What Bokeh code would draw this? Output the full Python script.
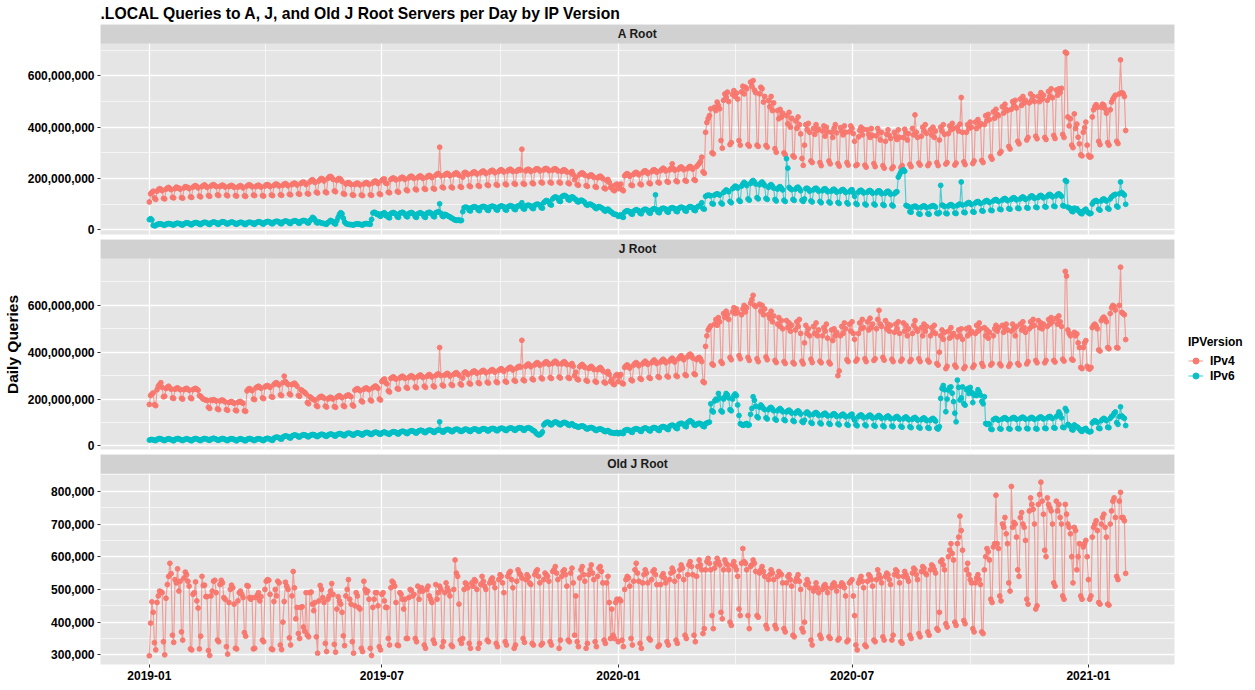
import numpy as np
import pandas as pd
from bokeh.plotting import figure
from bokeh.layouts import column
from bokeh.models import (Range1d, FixedTicker, NumeralTickFormatter, DatetimeTickFormatter,
                          Legend, LegendItem, Grid, ColumnDataSource)
from bokeh.core.properties import value
from bokeh.embed import file_html
from bokeh.resources import INLINE

TITLE = ".LOCAL Queries to A, J, and Old J Root Servers per Day by IP Version"
START = "2019-01-01"  # first day of the daily series
PANELS = ["A Root", "J Root", "Old J Root"]
VERSIONS = ["IPv4", "IPv6"]
X_TICKS = ["2019-01-01", "2019-07-01", "2020-01-01", "2020-07-01", "2021-01-01"]
Y_TICKS_AJ = [0, 200e6, 400e6, 600e6]
Y_MINOR_AJ = [100e6, 300e6, 500e6, 700e6]
Y_TICKS_OLDJ = [300e3, 400e3, 500e3, 600e3, 700e3, 800e3]
Y_MINOR_OLDJ = [350e3, 450e3, 550e3, 650e3, 750e3, 850e3]

# daily queries, A root, millions (one row per week, Mon..Sun)
A_IPV4_M = [
108,140,146,150,124,118,
150,156,160,158,152,122,120, 158,162,165,160,156,126,124, 160,166,164,162,158,125,123,
163,168,166,165,160,128,126, 166,170,172,168,163,131,128, 168,172,175,170,165,133,130,
170,174,176,172,168,136,133, 168,172,174,171,166,135,132, 168,171,173,170,165,133,131,
166,170,172,168,163,132,130, 170,174,175,172,167,135,133, 168,172,174,170,166,133,131,
170,175,176,173,168,135,133, 172,177,178,175,170,136,134, 173,178,180,176,171,138,136,
176,180,182,179,174,140,138, 180,184,186,183,176,141,139, 186,192,195,190,184,146,143,
190,196,200,197,190,147,144, 200,206,208,204,196,151,148, 192,198,200,196,188,141,138,
178,182,184,181,176,136,134, 176,180,182,179,174,135,133, 178,182,184,181,176,136,134,
182,188,190,186,180,140,137, 192,197,198,182,180,146,144, 196,200,202,199,194,149,146,
198,203,205,201,196,155,152, 202,207,209,205,200,158,155, 203,208,210,206,200,160,157,
205,210,212,208,203,161,158, 212,217,219,322,210,166,163, 213,218,220,216,210,166,163,
215,220,222,218,212,168,165, 205,222,224,220,215,171,168, 219,224,226,222,217,172,169,
222,227,229,225,219,175,172, 225,230,232,228,222,176,173, 227,232,234,230,225,178,175,
229,234,236,232,227,180,177, 228,233,235,232,314,180,177, 229,234,236,233,227,182,179,
232,237,238,235,229,185,182, 233,238,239,236,230,185,182, 232,237,238,234,229,185,182,
227,232,234,230,225,182,179, 222,227,215,195,205,176,173, 215,220,222,218,212,172,169,
207,212,214,210,204,168,165, 202,207,209,205,199,162,159, 192,196,185,165,170,155,152,
175,178,160,172,178,156,152, 210,216,219,215,208,174,172, 216,222,224,220,214,178,175,
222,228,230,226,219,182,179, 226,232,234,230,224,185,182, 230,236,240,236,229,188,185,
233,239,257,238,232,190,187, 236,242,245,240,234,192,189, 238,244,247,243,236,195,192,
246,252,258,266,283,226,220, 380,418,433,445,472,300,296, 478,465,498,485,472,348,318,
505,530,517,537,500,332,340, 528,543,520,533,510,348,330, 538,560,530,556,550,332,326,
576,560,582,545,535,330,325, 530,556,550,498,520,329,322, 504,480,520,465,495,316,302,
465,433,470,439,455,300,292, 445,413,458,400,435,288,283, 425,395,440,410,374,278,251,
330,410,390,415,380,268,262, 395,372,410,388,392,262,250, 385,405,365,400,382,268,257,
380,360,396,410,378,258,248, 398,385,370,405,380,262,252, 382,405,396,375,345,250,254,
362,388,400,370,392,252,244, 390,372,360,395,368,258,246, 366,395,382,350,380,250,240,
345,372,390,368,356,238,245, 380,364,352,390,360,242,250, 360,392,378,350,375,255,246,
395,370,448,380,360,260,252, 365,400,385,410,376,250,258, 390,370,400,360,385,262,250,
350,400,385,410,372,256,262, 375,405,390,415,395,252,260, 400,385,412,516,380,265,254,
380,410,395,420,400,258,268, 420,395,430,405,415,270,262, 410,445,425,450,430,285,275,
460,435,470,450,445,298,305, 480,455,490,470,465,325,315, 470,500,485,505,475,345,335,
510,485,520,495,505,350,360, 495,530,505,520,500,365,355, 520,500,535,510,525,360,352,
505,540,520,550,515,368,356, 545,525,550,535,552,372,360, 693,689,440,405,433,330,320,
452,395,412,361,335,292,288, 380,398,420,330,290,283,285, 440,468,480,488,478,345,332,
478,490,486,472,455,340,330, 468,498,510,518,525,345,336,
530,663,535,532,520,387,
]

A_IPV6_M = [
39,43,38,17,15,16,
20,22,23,22,21,18,17, 21,23,24,23,22,19,18, 22,24,25,24,23,19,18,
23,25,27,26,24,20,19, 24,26,28,27,25,21,20, 25,27,29,28,26,22,20,
26,28,30,29,27,22,21, 27,29,31,30,28,23,22, 26,28,30,29,27,22,21,
25,27,29,28,26,21,20, 26,28,29,28,27,22,21, 27,29,31,30,28,23,22,
28,30,32,31,29,24,23, 29,31,33,32,30,24,23, 30,32,34,33,31,25,24,
31,33,35,34,32,26,25, 32,34,36,35,33,27,26, 35,40,48,45,38,28,26,
30,28,26,25,24,22,21, 28,30,36,34,30,24,22, 35,48,60,66,62,45,30,
24,22,21,20,20,19,18, 21,22,23,22,21,19,18, 22,23,24,23,22,21,40,
65,68,66,60,62,55,52, 62,64,66,55,58,48,46, 63,65,67,64,60,50,48,
64,66,68,65,61,52,50, 63,65,67,64,60,50,48, 62,64,66,63,60,50,48,
64,66,68,65,62,52,50, 66,68,70,101,64,53,51, 60,58,55,52,50,46,44,
40,38,36,37,38,35,36, 70,86,88,87,85,75,73, 86,88,90,88,86,76,74,
87,89,91,89,87,77,75, 88,90,92,90,88,78,76, 88,90,93,91,89,78,76,
89,91,94,92,90,80,78, 90,92,95,93,105,82,80, 92,94,96,94,92,84,82,
95,98,100,98,96,86,84, 105,110,114,112,108,98,96, 120,125,128,126,122,112,110,
128,132,134,132,128,118,115, 125,128,126,120,118,110,108, 112,115,114,110,106,98,95,
98,100,98,95,92,85,82, 88,90,88,85,82,75,72, 78,80,76,70,68,62,60,
60,58,52,55,58,50,48, 68,72,74,72,70,62,60, 72,75,78,76,73,64,62,
74,78,80,78,75,66,64, 76,80,82,136,78,68,66, 78,82,84,82,80,70,68,
80,84,86,84,82,72,70, 82,86,88,86,84,74,72, 84,88,90,88,86,76,74,
86,90,92,95,105,82,80, 130,133,135,134,132,102,100, 135,138,140,138,135,104,100,
145,150,155,152,148,110,105, 160,165,170,168,162,115,110, 170,178,185,180,172,120,115,
180,188,192,186,178,125,120, 175,182,186,180,172,122,118, 165,172,176,170,162,118,112,
158,165,168,162,155,115,110, 277,240,165,160,156,118,114, 158,164,166,160,152,115,110,
120,160,162,158,150,112,108, 155,160,162,158,150,110,105, 152,158,160,155,148,108,104,
150,156,158,153,146,106,102, 150,155,157,152,145,105,100, 148,154,156,145,130,102,98,
146,152,154,150,143,100,96, 146,151,153,149,142,100,96, 144,150,152,148,140,98,94,
142,148,150,146,138,96,92, 140,146,148,205,215,225,230, 234,228,95,92,90,70,68,
88,90,92,90,86,62,60, 88,91,93,90,86,62,60, 90,92,94,92,88,64,62,
66,173,96,94,90,64,62, 92,96,98,95,90,65,63, 94,98,100,186,96,68,66,
100,104,106,102,98,70,68, 104,108,110,106,102,74,72, 108,112,114,110,106,76,74,
112,116,118,114,110,80,78, 115,120,122,118,113,82,80, 118,123,125,121,116,84,82,
120,125,128,124,118,86,84, 124,130,132,128,122,88,86, 126,132,134,130,124,90,88,
130,136,138,134,128,92,90, 132,138,140,136,130,94,92, 192,188,88,85,82,72,70,
84,80,82,75,70,64,62, 72,76,80,70,66,62,64, 100,108,112,114,110,80,76,
112,118,120,116,112,84,80, 120,128,132,136,138,92,88,
140,186,145,140,135,99,
]

# daily queries, J root, millions
J_IPV4_M = [
177,215,222,226,176,172,
240,255,262,270,250,210,212, 245,250,255,248,242,205,203, 242,246,248,244,240,203,200,
240,244,246,242,238,205,202, 240,244,246,242,238,215,212, 205,200,198,196,194,165,160,
196,194,198,195,192,158,155, 192,195,196,192,188,155,152, 185,188,190,186,182,152,150,
186,189,190,185,182,150,148, 235,242,245,240,236,200,198, 248,252,255,250,246,205,202,
252,256,258,254,250,210,208, 262,268,270,265,260,218,215, 270,298,275,268,262,222,218,
262,265,268,262,255,215,212, 240,236,232,228,222,185,180, 210,205,200,198,195,172,168,
205,210,212,208,204,170,166, 200,205,208,204,200,168,165, 208,212,215,210,206,172,168,
212,216,218,214,210,175,170, 238,242,245,240,236,192,188, 242,246,248,244,240,196,192,
248,252,256,252,246,200,196, 275,282,286,270,265,235,230, 288,292,295,290,285,245,242,
290,295,298,294,288,250,246, 292,297,300,296,290,252,248, 295,300,303,298,292,255,250,
296,302,305,300,294,256,252, 300,305,308,420,300,260,256, 302,307,310,305,298,262,258,
305,310,313,308,302,265,260, 290,312,316,312,305,268,264, 312,318,320,316,310,270,266,
315,320,323,318,312,272,268, 318,323,326,321,315,274,270, 322,327,330,325,318,276,272,
328,333,336,331,324,280,276, 332,337,340,336,451,282,278, 340,346,350,345,338,286,282,
346,352,356,351,344,290,286, 350,356,360,355,348,292,288, 352,358,362,357,350,294,290,
350,356,360,354,347,292,288, 346,352,340,300,315,285,282, 338,344,348,342,335,280,276,
330,336,340,334,326,276,272, 325,331,335,329,320,272,268, 312,318,305,275,285,265,262,
300,305,275,298,305,268,265, 335,342,346,340,332,282,278, 345,352,356,350,342,288,284,
350,357,362,356,348,292,288, 355,362,367,360,352,296,292, 358,365,370,364,355,298,294,
362,370,375,368,358,300,296, 372,380,385,378,368,304,300, 380,388,392,386,375,308,304,
368,375,378,372,360,275,270, 425,470,495,505,512,350,345, 520,540,515,548,530,360,352,
565,548,575,560,540,378,368, 572,590,565,585,570,385,372, 560,585,600,572,590,378,365,
610,625,643,600,595,372,360, 605,575,600,560,585,380,368, 560,545,575,530,555,365,356,
520,548,510,535,500,360,352, 535,505,525,490,515,356,350, 495,530,510,540,480,362,350,
440,515,480,500,470,370,356, 510,480,525,470,495,362,355, 470,505,490,520,460,358,350,
495,450,500,470,485,300,320, 470,510,480,525,500,368,360, 520,490,530,480,455,362,370,
480,525,500,540,505,372,360, 530,495,545,505,520,365,372, 500,540,579,520,510,378,366,
535,500,520,490,515,370,360, 485,520,500,530,480,362,370, 525,490,515,470,500,360,368,
480,515,535,500,490,372,360, 505,470,520,490,510,366,358, 470,505,485,515,480,352,345,
400,470,495,455,485,330,340, 490,460,505,470,480,345,336, 465,495,470,500,455,330,338,
500,470,505,480,490,335,345, 480,515,490,525,500,352,340, 505,470,495,460,485,345,352,
470,500,515,490,505,350,342, 515,485,505,520,495,340,350, 490,520,500,470,510,352,345,
520,495,530,505,485,350,360, 500,530,510,540,515,365,355, 535,505,525,500,520,355,365,
510,540,520,548,530,365,358, 545,520,555,530,510,370,362, 745,725,495,480,470,370,366,
485,470,478,440,420,335,330, 420,440,450,340,330,328,335, 505,515,520,512,500,410,405,
535,545,550,542,530,420,415, 565,590,600,595,580,420,418,
600,763,570,565,560,454,
]

J_IPV6_M = [
25,27,28,26,24,23,
28,30,32,30,28,24,23, 27,29,31,29,27,24,22, 28,30,32,30,28,25,23,
27,29,31,29,27,24,22, 28,30,32,30,28,24,23, 28,30,32,30,29,25,24,
29,31,33,31,29,25,24, 28,30,32,30,28,24,23, 28,30,31,30,28,24,22,
27,29,31,29,27,23,22, 28,30,32,30,28,24,23, 28,30,31,30,28,24,23,
29,31,33,31,29,25,24, 33,36,38,37,35,30,29, 38,41,43,42,40,35,34,
42,45,47,46,44,39,38, 43,46,48,47,45,40,39, 44,47,49,48,46,41,40,
45,48,50,49,47,42,41, 46,49,51,50,48,43,42, 48,51,53,52,50,45,44,
50,53,55,54,52,47,46, 51,54,56,55,53,48,47, 53,56,58,57,55,50,49,
54,57,59,58,56,51,50, 55,58,60,56,55,51,50, 56,59,61,60,58,52,51,
58,61,63,62,60,54,53, 60,63,65,64,62,56,55, 62,65,67,66,64,58,57,
63,66,68,67,65,59,58, 64,67,69,103,66,60,59, 66,69,71,70,68,62,61,
67,70,72,71,69,63,62, 65,70,72,71,69,63,62, 68,71,73,72,70,64,63,
69,72,74,73,71,65,64, 70,73,75,74,72,66,65, 71,74,76,75,73,67,66,
72,75,77,76,74,68,67, 73,76,78,77,76,68,67, 74,76,78,76,74,68,66,
62,55,50,47,48,52,60, 90,96,100,102,100,92,90, 96,100,103,101,98,92,90,
95,99,101,99,96,90,88, 92,95,90,85,86,82,80, 82,85,86,84,80,74,72,
76,78,79,77,74,68,66, 70,72,73,71,68,63,61, 64,66,62,56,58,55,54,
56,58,52,56,58,54,53, 66,68,70,68,66,60,58, 70,72,74,72,70,64,62,
72,75,77,75,72,66,64, 74,77,79,77,74,68,66, 78,81,83,81,78,72,70,
84,87,89,87,84,76,74, 92,95,97,95,92,84,82, 100,104,108,104,100,90,88,
92,95,97,95,92,84,82, 95,98,100,102,180,150,145, 192,200,196,224,205,150,145,
200,210,224,218,205,155,150, 200,215,222,215,175,130,95, 92,88,90,94,96,88,90,
135,160,210,195,170,125,120, 165,175,168,160,155,120,115, 155,162,165,158,150,115,110,
150,156,160,154,146,112,108, 145,150,153,148,140,108,104, 140,146,150,144,136,104,100,
110,140,145,140,132,100,96, 135,140,143,138,130,98,94, 132,137,140,135,128,96,92,
130,135,138,133,126,94,90, 128,133,136,131,124,92,88, 128,133,136,120,110,90,86,
125,130,133,128,120,90,86, 124,129,132,127,119,88,84, 122,127,130,125,118,86,82,
120,125,128,123,116,85,82, 118,123,126,121,114,84,80, 116,121,124,119,112,82,78,
114,119,122,117,110,80,76, 112,117,120,115,108,78,75, 110,115,118,113,106,76,72,
82,203,245,258,240,146,200, 238,250,252,225,189,140,103, 281,250,196,205,252,180,174,
240,245,224,250,230,185,217, 222,215,240,230,217,190,180, 210,96,92,95,93,72,70,
112,116,118,114,110,74,72, 115,119,121,117,112,74,72, 116,120,122,118,113,75,73,
117,121,123,119,114,75,73, 116,120,122,118,113,74,72, 118,122,124,120,115,76,74,
120,124,126,122,117,78,76, 125,130,145,135,120,80,78, 160,150,92,88,84,70,68,
90,85,82,78,72,65,62, 70,72,75,66,62,60,62, 98,104,108,104,100,76,74,
108,114,118,114,108,80,78, 118,126,130,140,145,100,92,
125,167,128,122,118,87,
]

# daily queries, old J root (IPv4 only), thousands
OLDJ_IPV4_K = [
297,397,462,430,337,315,
460,480,495,493,490,340,300, 473,515,540,580,548,360,338, 530,520,563,495,525,370,345,
535,553,545,525,510,318,315, 485,490,523,465,443,318,357, 540,512,513,478,478,313,298,
480,495,525,528,490,345,340, 515,528,520,475,470,325,302, 460,500,513,505,455,320,318,
465,490,495,485,475,368,357, 512,510,475,470,475,318,320, 475,482,490,465,478,345,340,
500,525,530,528,485,318,316, 463,500,480,525,520,330,316, 400,463,522,510,500,352,330,
480,555,505,410,445,365,350, 445,447,385,372,490,360,355, 490,492,455,435,460,355,305,
465,512,500,475,460,335,310, 470,480,495,518,485,332,308, 440,478,465,455,430,358,328,
480,500,530,470,455,340,305, 450,490,480,445,440,320,310, 525,500,490,495,470,320,298,
445,470,490,490,450,325,315, 485,490,465,445,445,350,330, 505,525,520,510,460,330,328,
490,485,470,440,470,350,350, 475,500,497,480,485,350,340, 510,470,495,505,495,330,320,
500,510,480,470,460,345,335, 515,470,490,510,500,325,340, 490,520,505,495,480,330,325,
500,590,550,540,455,345,335, 350,500,520,515,505,335,320, 520,510,530,525,500,320,335,
515,540,525,510,500,345,340, 520,530,535,520,505,335,325, 530,545,540,520,490,340,330,
540,550,555,530,505,320,330, 525,560,550,545,535,350,338, 530,545,538,520,515,335,330,
545,555,560,540,520,330,335, 530,550,545,540,525,340,330, 555,560,570,550,530,320,345,
540,555,560,545,510,345,340, 550,565,520,360,480,340,325, 535,560,570,545,525,320,335,
545,560,575,550,530,340,325, 540,565,570,555,520,345,335, 520,540,460,350,440,360,350,
460,470,340,470,465,345,325, 500,530,540,535,510,350,330, 525,560,580,550,525,335,320,
520,545,560,550,520,350,345, 530,555,560,545,515,325,330, 515,540,548,535,520,340,330,
530,550,565,555,525,345,335, 540,560,575,565,530,360,350, 545,575,585,570,545,360,340,
540,570,590,575,560,365,380, 560,585,595,580,560,420,380, 565,580,595,585,575,430,410,
560,590,580,575,560,400,390, 575,585,570,560,540,440,420, 580,625,585,580,560,420,380,
570,575,590,580,555,420,415, 550,560,570,555,540,390,380, 530,545,560,550,530,390,380,
540,555,550,545,520,380,370, 520,540,545,530,510,360,355, 525,535,545,525,500,380,370,
400,515,530,520,505,345,330, 495,505,520,505,490,360,350, 500,510,515,505,490,355,350,
505,515,520,510,495,345,350, 510,520,515,505,480,340,345, 520,525,530,480,420,330,315,
520,530,540,525,505,330,325, 525,545,540,530,510,345,340, 530,560,545,535,520,355,345,
540,550,545,530,515,345,360, 545,560,555,540,520,340,335, 540,555,545,535,525,360,350,
550,565,560,545,530,365,355, 555,570,565,550,545,370,360, 560,575,570,560,550,380,375,
430,585,590,575,560,395,385, 600,620,640,610,590,400,390, 640,660,724,680,620,405,395,
560,580,545,530,520,380,370, 520,535,545,530,515,370,365, 560,600,625,615,590,470,460,
630,640,788,640,625,480,465, 700,690,720,670,640,520,495, 815,690,705,700,660,560,540,
720,735,700,690,650,470,455, 740,780,760,745,700,440,450, 760,790,828,770,730,620,600,
780,760,750,740,700,520,510, 770,740,760,720,700,480,470, 760,730,700,690,670,600,520,
690,680,560,600,640,480,470, 630,640,650,600,530,470,480, 660,690,700,710,680,460,455,
700,720,730,690,660,455,452, 700,740,770,780,720,540,530,
770,797,720,720,710,549,
]

# ---------------------------------------------------------------- styling
FONT = "Liberation Sans"
PANEL_BG = "#E5E5E5"
STRIP_BG = "#D1D1D1"
COLORS = {"IPv4": "#F8766D", "IPv6": "#00BFC4"}
FRAME_W = 1074
DATA_H = 191
STRIP_H = 19
LEFT = 96
RIGHT = 68


def day_ms(n):
    d = pd.date_range(START, periods=n, freq="D")
    return d.values.astype("datetime64[ms]").astype("int64").astype(float)


def to_ms(s):
    return float(np.datetime64(s, "ms").astype("int64"))


SERIES = {
    "A Root": [("IPv4", np.array(A_IPV4_M) * 1e6), ("IPv6", np.array(A_IPV6_M) * 1e6)],
    "J Root": [("IPv4", np.array(J_IPV4_M) * 1e6), ("IPv6", np.array(J_IPV6_M) * 1e6)],
    "Old J Root": [("IPv4", np.array(OLDJ_IPV4_K) * 1e3)],
}

all_x = np.concatenate([day_ms(len(v)) for p in SERIES.values() for _, v in p])
xmin, xmax = all_x.min(), all_x.max()
xr = xmax - xmin
X0, X1 = xmin - 0.05 * xr, xmax + 0.05 * xr

xt = [to_ms(s) for s in X_TICKS]
xminor = [(a + b) / 2 for a, b in zip(xt[:-1], xt[1:])]
x_ticker = FixedTicker(ticks=xt, minor_ticks=xminor)


def style_axis(ax):
    ax.axis_line_color = None
    ax.major_tick_line_color = "#333333"
    ax.major_tick_out = 3
    ax.major_tick_in = 0
    ax.minor_tick_line_color = None
    ax.major_label_standoff = 2
    ax.major_label_text_font = FONT
    ax.major_label_text_font_size = "12px"
    ax.major_label_text_font_style = "bold"
    ax.major_label_text_color = "black"


def make_panel(name, yticks, yminor, first=False, last=False, ylabel=None):
    series = SERIES[name]
    allv = np.concatenate([v for _, v in series])
    lo, hi = allv.min(), allv.max()
    r = hi - lo
    y0, y1 = lo - 0.05 * r, hi + 0.05 * r
    ytop = y1 + (y1 - y0) * STRIP_H / DATA_H

    p = figure(x_axis_type="datetime", frame_width=FRAME_W, frame_height=DATA_H + STRIP_H,
               x_range=Range1d(X0, X1), y_range=Range1d(y0, ytop),
               x_axis_location="below" if last else None,
               title=TITLE if first else None,
               output_backend="svg", toolbar_location=None,
               min_border_left=LEFT, min_border_right=RIGHT,
               min_border_top=0, min_border_bottom=5)
    p.background_fill_color = PANEL_BG
    p.border_fill_color = "white"
    p.outline_line_color = None

    if first:
        p.title.text_font = FONT
        p.title.text_font_size = "15.7px"
        p.title.text_font_style = "bold"
        p.title.text_color = "black"
        p.title.align = "left"
        p.title.standoff = 5

    p.center = [c for c in p.center if not isinstance(c, Grid)]
    y_ticker = FixedTicker(ticks=yticks, minor_ticks=yminor)
    for dim, tk in ((0, x_ticker), (1, y_ticker)):
        p.add_layout(Grid(dimension=dim, ticker=tk, grid_line_color="white", grid_line_width=1.3,
                          minor_grid_line_color="white", minor_grid_line_width=0.6), "center")

    yax = p.yaxis[0]
    yax.ticker = y_ticker
    yax.formatter = NumeralTickFormatter(format="0,0")
    style_axis(yax)
    if ylabel:
        yax.axis_label = ylabel
        yax.axis_label_text_font = FONT
        yax.axis_label_text_font_size = "15.5px"
        yax.axis_label_text_font_style = "bold"
        yax.axis_label_text_color = "black"
        yax.axis_label_standoff = 4

    if last:
        xax = p.xaxis[0]
        xax.ticker = x_ticker
        fmt = "%Y-%m"
        xax.formatter = DatetimeTickFormatter(
            microseconds=fmt, milliseconds=fmt, seconds=fmt, minsec=fmt, minutes=fmt,
            hourmin=fmt, hours=fmt, days=fmt, months=fmt, years=fmt)
        style_axis(xax)

    # facet strip
    p.quad(left=[X0], right=[X1], bottom=[y1], top=[ytop], fill_color=STRIP_BG, line_color=None)
    p.text(x=[(X0 + X1) / 2], y=[(y1 + ytop) / 2], text=[name], text_font=value(FONT),
           text_font_size="12px", text_font_style="bold", text_color="#1A1A1A",
           text_align="center", text_baseline="middle")

    rends = {}
    for ver, vals in series:
        src = ColumnDataSource(dict(x=day_ms(len(vals)), y=vals))
        ln = p.line("x", "y", source=src, line_color=COLORS[ver], line_width=1.2, line_alpha=0.65)
        sc = p.scatter("x", "y", source=src, size=4.8, fill_color=COLORS[ver],
                       line_color=COLORS[ver], fill_alpha=0.95, line_alpha=0.95)
        rends[ver] = [ln, sc]
    return p, rends


p1, _ = make_panel("A Root", Y_TICKS_AJ, Y_MINOR_AJ, first=True)
p2, r2 = make_panel("J Root", Y_TICKS_AJ, Y_MINOR_AJ, ylabel="Daily Queries")
p3, _ = make_panel("Old J Root", Y_TICKS_OLDJ, Y_MINOR_OLDJ, last=True)

legend = Legend(items=[LegendItem(label=v, renderers=r2[v]) for v in VERSIONS],
                title="IPVersion", location=(14, 66),
                title_text_font=FONT, title_text_font_size="12px", title_text_font_style="bold",
                title_text_color="black", title_standoff=4,
                label_text_font=FONT, label_text_font_size="12px", label_text_font_style="bold",
                label_text_color="black", glyph_width=15, glyph_height=15, label_height=15,
                label_standoff=7, spacing=0, padding=0, margin=0,
                border_line_color=None, background_fill_alpha=0)
p2.add_layout(legend, "right")

layout = column(p1, p2, p3, spacing=0)
open("out.html", "w").write(file_html(layout, INLINE))
